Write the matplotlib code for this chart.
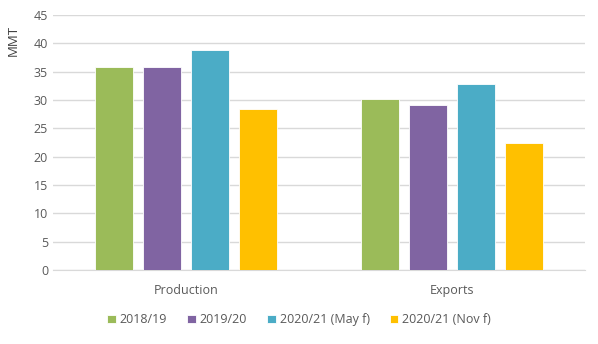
import numpy as np
import matplotlib
matplotlib.use("Agg")
import matplotlib.pyplot as plt

categories = ["Production", "Exports"]
series = ["2018/19", "2019/20", "2020/21 (May f)", "2020/21 (Nov f)"]
values = {
    "2018/19": [35.8, 30.2],
    "2019/20": [35.9, 29.1],
    "2020/21 (May f)": [38.9, 32.9],
    "2020/21 (Nov f)": [28.5, 22.5],
}
colors = ["#9bbb59", "#8064a2", "#4bacc6", "#ffc000"]

plt.rcParams["font.family"] = ["Open Sans", "DejaVu Sans"]
text_col = "#595959"

fig = plt.figure(figsize=(5.98, 3.44), dpi=100)
ax = fig.add_axes([0.0886, 0.215, 0.8894, 0.741])

x = np.arange(len(categories))
step = 0.18
width = 0.143
for i, (name, c) in enumerate(zip(series, colors)):
    ax.bar(x + (i - 1.5) * step, values[name], width, color=c,
           edgecolor="white", linewidth=0.6, label=name, zorder=3)

ax.set_xlim(-0.5, 1.5)
ax.set_ylim(0, 45)
ax.set_yticks(range(0, 46, 5))
ax.set_xticks(x)
ax.set_xticklabels(categories)
ax.grid(axis="y", color="#d9d9d9", linewidth=1, zorder=0)
for s in ["top", "right", "left"]:
    ax.spines[s].set_visible(False)
ax.spines["bottom"].set_color("#d9d9d9")
ax.tick_params(length=0, colors=text_col, labelsize=9)
ax.tick_params(axis="x", pad=10)
ax.set_ylabel("MMT", color="#404040", fontsize=9.5)
ax.yaxis.set_label_coords(-0.062, 0.9)

# legend sits centred on the figure, not the axes
ax.legend(loc="upper center", bbox_to_anchor=(0.5, 0.122), bbox_transform=fig.transFigure,
          ncol=4, frameon=False, fontsize=9, labelcolor=text_col,
          handlelength=0.7, handleheight=0.7, handletextpad=0.3, columnspacing=1.6)

fig.savefig("out.png", dpi=100)
